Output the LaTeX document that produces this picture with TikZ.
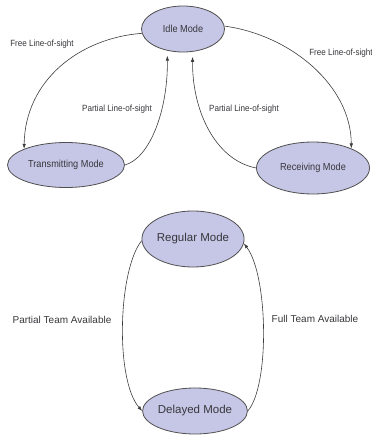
\documentclass[tikz,border=0pt]{standalone}
\usepackage{fontspec}
\setmainfont{Liberation Sans}
\newfontfamily\narrowsans[FakeStretch=0.9]{Liberation Sans}
\usetikzlibrary{shapes.geometric,arrows.meta}
\definecolor{statefill}{RGB}{198,198,230}
\definecolor{stateline}{RGB}{80,80,80}
\definecolor{inktext}{RGB}{55,55,60}
\definecolor{wire}{RGB}{60,60,60}
\begin{document}
\begin{tikzpicture}[x=1pt,y=-1pt,
  state/.style={ellipse, draw=stateline, line width=0.8pt, fill=statefill,
    inner sep=0pt, text=inktext},
  smallstate/.style={state, font=\narrowsans\fontsize{10.2}{12}\selectfont},
  bigstate/.style={state, font=\fontsize{11.5}{13}\selectfont},
  smalllabel/.style={text=inktext, inner sep=0pt,
    font=\narrowsans\fontsize{9}{11}\selectfont},
  biglabel/.style={text=inktext, inner sep=0pt, font=\fontsize{10}{12}\selectfont},
  trans/.style={draw=wire, line width=0.6pt, -{Latex[length=5pt,width=3.5pt]}},
]
\useasboundingbox (0,0) rectangle (372,439);

% line-of-sight modes
\node[smallstate, minimum width=83pt, minimum height=46pt] (idle) at (183,29) {Idle Mode};
\node[smallstate, minimum width=117pt, minimum height=45pt] (tx) at (66,165) {Transmitting Mode};
\node[smallstate, minimum width=113pt, minimum height=52pt] (rx) at (313,168) {Receiving Mode};

\node[smalllabel] (freeL) at (42,44) {Free Line-of-sight};
\node[smalllabel] (freeR) at (341,53) {Free Line-of-sight};
\node[smalllabel] (partL) at (117,109) {Partial Line-of-sight};
\node[smalllabel] (partR) at (244,109) {Partial Line-of-sight};

\draw[trans] (idle.186) .. controls (80,38) and (25,80) .. (tx.159);
\draw[trans, shorten >=5pt] (tx.east) .. controls (150,158) and (168,110) .. (idle.234);
\draw[trans, shorten >=5pt] (rx.west) .. controls (215,160) and (192,110) .. (idle.293);
\draw[trans] (idle.4) .. controls (290,35) and (351,85) .. (rx.27);

% team availability modes
\node[bigstate, minimum width=100pt, minimum height=56pt] (reg) at (193,239) {Regular Mode};
\node[bigstate, minimum width=100pt, minimum height=46pt] (del) at (195,411) {Delayed Mode};

\node[biglabel] (partT) at (62,320) {Partial Team Available};
\node[biglabel] (fullT) at (315,319) {Full Team Available};

\draw[trans] (reg.182) .. controls (118,270) and (115,380) .. (del.180);
\draw[trans] (del.0) .. controls (270,385) and (268,275) .. (reg.355);
\end{tikzpicture}
\end{document}
